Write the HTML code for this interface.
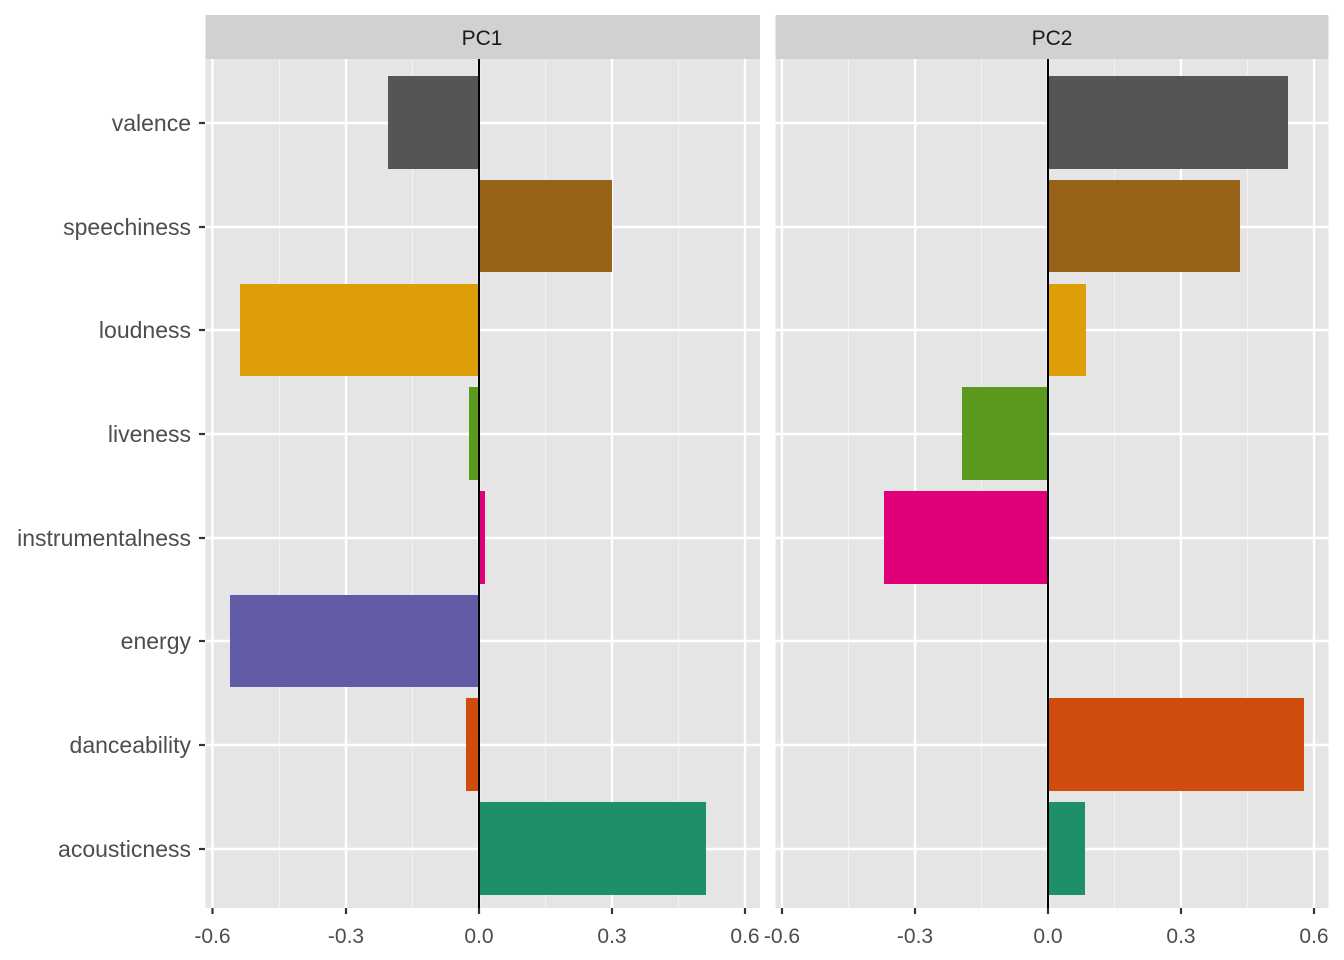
<!DOCTYPE html>
<html><head><meta charset="utf-8"><style>body{margin:0;background:#fff}svg{display:block}</style></head>
<body>
<svg width="1344" height="960" xmlns="http://www.w3.org/2000/svg" font-family="Liberation Sans, Arial, sans-serif">
<rect width="1344" height="960" fill="#fff"/>
<rect x="205.5" y="15" width="554.5" height="44" fill="#d1d1d1"/>
<rect x="775.5" y="15" width="553" height="44" fill="#d1d1d1"/>
<text x="482" y="45" font-size="21" text-anchor="middle" fill="#1a1a1a">PC1</text>
<text x="1052" y="45" font-size="21" text-anchor="middle" fill="#1a1a1a">PC2</text>
<g id="p1">
<rect x="205.5" y="59" width="554.5" height="849" fill="#e5e5e5"/>
<g stroke="#f2f2f2" stroke-width="1.2">
<line x1="279.5" y1="59" x2="279.5" y2="908"/><line x1="412.5" y1="59" x2="412.5" y2="908"/><line x1="545.5" y1="59" x2="545.5" y2="908"/><line x1="678.5" y1="59" x2="678.5" y2="908"/>
</g>
<g stroke="#fff" stroke-width="2.4">
<line x1="212.5" y1="59" x2="212.5" y2="908"/><line x1="346" y1="59" x2="346" y2="908"/><line x1="479" y1="59" x2="479" y2="908"/><line x1="612" y1="59" x2="612" y2="908"/><line x1="745" y1="59" x2="745" y2="908"/>
<line x1="205.5" y1="123" x2="760" y2="123"/><line x1="205.5" y1="227" x2="760" y2="227"/><line x1="205.5" y1="330" x2="760" y2="330"/><line x1="205.5" y1="434" x2="760" y2="434"/><line x1="205.5" y1="538" x2="760" y2="538"/><line x1="205.5" y1="641" x2="760" y2="641"/><line x1="205.5" y1="745" x2="760" y2="745"/><line x1="205.5" y1="849" x2="760" y2="849"/>
</g>
<rect x="388" y="76" width="91" height="93" fill="#555555"/>
<rect x="479" y="180" width="133" height="92" fill="#966319"/>
<rect x="240" y="284" width="239" height="92" fill="#de9e09"/>
<rect x="469" y="387" width="10" height="93" fill="#5a9a1e"/>
<rect x="479" y="491" width="6" height="93" fill="#e0007a"/>
<rect x="230" y="595" width="249" height="92" fill="#615ca5"/>
<rect x="466" y="698" width="13" height="93" fill="#cf4c0c"/>
<rect x="479" y="802" width="227" height="93" fill="#1e9068"/>
<line x1="479" y1="59" x2="479" y2="908" stroke="#000" stroke-width="2"/>
</g>
<g id="p2">
<rect x="775.5" y="59" width="553" height="849" fill="#e5e5e5"/>
<g stroke="#f2f2f2" stroke-width="1.2">
<line x1="848.5" y1="59" x2="848.5" y2="908"/><line x1="981.5" y1="59" x2="981.5" y2="908"/><line x1="1114.5" y1="59" x2="1114.5" y2="908"/><line x1="1247.5" y1="59" x2="1247.5" y2="908"/>
</g>
<g stroke="#fff" stroke-width="2.4">
<line x1="782" y1="59" x2="782" y2="908"/><line x1="915" y1="59" x2="915" y2="908"/><line x1="1048" y1="59" x2="1048" y2="908"/><line x1="1181" y1="59" x2="1181" y2="908"/><line x1="1314" y1="59" x2="1314" y2="908"/>
<line x1="775.5" y1="123" x2="1328.5" y2="123"/><line x1="775.5" y1="227" x2="1328.5" y2="227"/><line x1="775.5" y1="330" x2="1328.5" y2="330"/><line x1="775.5" y1="434" x2="1328.5" y2="434"/><line x1="775.5" y1="538" x2="1328.5" y2="538"/><line x1="775.5" y1="641" x2="1328.5" y2="641"/><line x1="775.5" y1="745" x2="1328.5" y2="745"/><line x1="775.5" y1="849" x2="1328.5" y2="849"/>
</g>
<rect x="1048" y="76" width="240" height="93" fill="#555555"/>
<rect x="1048" y="180" width="192" height="92" fill="#966319"/>
<rect x="1048" y="284" width="38" height="92" fill="#de9e09"/>
<rect x="962" y="387" width="86" height="93" fill="#5a9a1e"/>
<rect x="884" y="491" width="164" height="93" fill="#e0007a"/>
<rect x="1048" y="698" width="256" height="93" fill="#cf4c0c"/>
<rect x="1048" y="802" width="37" height="93" fill="#1e9068"/>
<line x1="1048" y1="59" x2="1048" y2="908" stroke="#000" stroke-width="2"/>
</g>
<g stroke="#333" stroke-width="2.2">
<line x1="199" y1="123" x2="205" y2="123"/><line x1="199" y1="227" x2="205" y2="227"/><line x1="199" y1="330" x2="205" y2="330"/><line x1="199" y1="434" x2="205" y2="434"/><line x1="199" y1="538" x2="205" y2="538"/><line x1="199" y1="641" x2="205" y2="641"/><line x1="199" y1="745" x2="205" y2="745"/><line x1="199" y1="849" x2="205" y2="849"/>
<line x1="212.5" y1="908" x2="212.5" y2="914"/><line x1="346" y1="908" x2="346" y2="914"/><line x1="479" y1="908" x2="479" y2="914"/><line x1="612" y1="908" x2="612" y2="914"/><line x1="745" y1="908" x2="745" y2="914"/>
<line x1="782" y1="908" x2="782" y2="914"/><line x1="915" y1="908" x2="915" y2="914"/><line x1="1048" y1="908" x2="1048" y2="914"/><line x1="1181" y1="908" x2="1181" y2="914"/><line x1="1314" y1="908" x2="1314" y2="914"/>
</g>
<g font-size="23" fill="#4d4d4d" text-anchor="end">
<text x="191" y="131">valence</text><text x="191" y="235">speechiness</text><text x="191" y="338">loudness</text><text x="191" y="442">liveness</text><text x="191" y="546">instrumentalness</text><text x="191" y="649">energy</text><text x="191" y="753">danceability</text><text x="191" y="857">acousticness</text>
</g>
<g font-size="21" fill="#4d4d4d" text-anchor="middle">
<text x="212.5" y="943">-0.6</text><text x="346" y="943">-0.3</text><text x="479" y="943">0.0</text><text x="612" y="943">0.3</text><text x="745" y="943">0.6</text>
<text x="782" y="943">-0.6</text><text x="915" y="943">-0.3</text><text x="1048" y="943">0.0</text><text x="1181" y="943">0.3</text><text x="1314" y="943">0.6</text>
</g>
</svg>
</body></html>
